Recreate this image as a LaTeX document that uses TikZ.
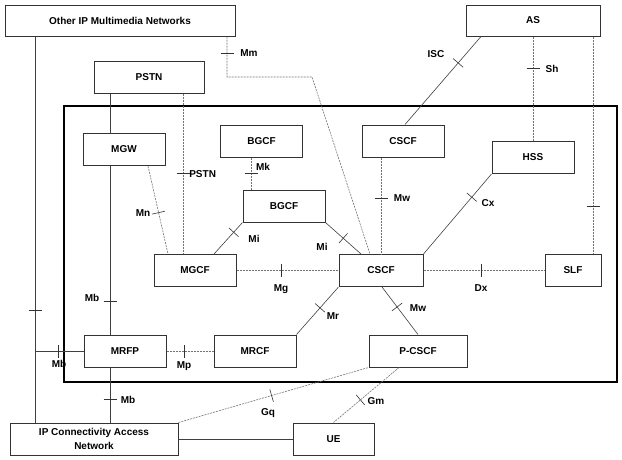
\documentclass[tikz,border=0pt]{standalone}
\usepackage{fontspec}
\setmainfont{Liberation Sans}
\usetikzlibrary{decorations.markings}

\begin{document}
\begin{tikzpicture}[x=1pt,y=-1pt,line width=0.6pt,
    box/.style={draw=black!80,line width=1pt,fill=white,minimum width=82pt,
        minimum height=32pt,inner sep=1pt,align=center,
        font=\fontsize{10}{13.5}\selectfont\bfseries},
    lbl/.style={inner sep=0pt,font=\bfseries},
    link/.style={draw=black!75},
    dots/.style={draw=black!55,dash pattern=on 2pt off 1pt},
    tick/.style={postaction={decorate,decoration={markings,
        mark=at position #1 with {\draw [solid,black!80] (0pt,-6.5pt) -- (0pt,6.5pt);}}}}]
\useasboundingbox (0,0) rectangle (622,459);
\draw [line width=1.6pt] (64,106) rectangle (617,382);

\node (oipn) [box,minimum width=230pt,minimum height=31pt] at (120,20.5) {Other IP Multimedia Networks};
\node (as) [box,minimum width=134pt,minimum height=31pt] at (533,20.5) {AS};
\node (pstn) [box,minimum width=110pt] at (149,77) {PSTN};
\node (mgw) [box] at (124,149.5) {MGW};
\node (bgcfa) [box] at (261.5,141.5) {BGCF};
\node (cscfa) [box] at (403,141) {CSCF};
\node (hss) [box] at (533,157.5) {HSS};
\node (bgcfb) [box] at (284,206) {BGCF};
\node (mgcf) [box] at (195,270.5) {MGCF};
\node (cscf) [box,minimum width=84pt] at (381,270.5) {CSCF};
\node (slf) [box,minimum width=56pt] at (573,270.5) {SLF};
\node (mrfp) [box] at (125,351) {MRFP};
\node (mrcf) [box] at (255,351) {MRCF};
\node (pcscf) [box,minimum width=98pt] at (418,351) {P-CSCF};
\node (ipcan) [box,minimum width=168pt] at (94,439) {IP Connectivity Access\\Network};
\node (ue) [box,minimum width=81pt] at (333.5,439) {UE};

\draw [link,tick=.71] ([xshift=-85pt]oipn.south) coordinate (o1) -- (o1 |- ipcan.north);
\draw [link,tick=.49] (o1 |- mrfp.west) -- (mrfp.west);
\draw [dots,tick=17pt] ([xshift=107pt]oipn.south) |- (312,77) -- ([xshift=-11pt]cscf.north);
\draw [link] ([xshift=-39pt]pstn.south) coordinate (p1) -- (p1 |- mgw.north);
\draw [link,tick=.8] (p1 |- mgw.south) -- (p1 |- mrfp.north);
\draw [link,tick=.57] (p1 |- mrfp.south) -- (p1 |- ipcan.north);
\draw [dots,tick=.5] ([xshift=34pt]pstn.south) coordinate (p2) -- (p2 |- mgcf.north);
\draw [dots,tick=.53] ([xshift=24pt]mgw.south) -- ([xshift=-27pt]mgcf.north);
\draw [dots,tick=.47] ([xshift=-10.5pt]bgcfa.south) coordinate (b1) -- (b1 |- bgcfb.north);
\draw [link,tick=.31] (bgcfb.south west) -- ([xshift=19pt]mgcf.north);
\draw [link,tick=.5] (bgcfb.south east) -- ([xshift=-20pt]cscf.north);
\draw [dots,tick=.44] (mgcf.east) -- (cscf.west);
\draw [dots,tick=.42] ([xshift=-22pt]cscfa.south) coordinate (c1) -- (c1 |- cscf.north);
\draw [link,tick=.7] ([xshift=2pt]cscfa.north) -- ([xshift=-52pt]as.south);
\draw [dots,tick=.3] (as.south) -- (hss.north);
\draw [dots,tick=.78] ([xshift=60pt]as.south) coordinate (a1) -- (a1 |- slf.north);
\draw [link,tick=.29] (hss.south west) -- (cscf.north east);
\draw [dots,tick=.475] (cscf.east) -- (slf.west);
\draw [link,tick=.44] (cscf.south west) -- (mrcf.north east);
\draw [link,tick=.42] ([xshift=1pt]cscf.south) -- (pcscf.north);
\draw [dots,tick=.375] (mrfp.east) -- (mrcf.west);
\draw [dots,tick=.49] (ipcan.north east) -- (pcscf.south west);
\draw [dots,tick=.59] ([xshift=-19pt]pcscf.south) -- (ue.north);
\draw [link] (ipcan.east) -- (ue.west);

\node (lMm) [lbl,anchor=west] at (240,53) {Mm};
\node (lISC) [lbl] at (436,54) {ISC};
\node (lSh) [lbl] at (552,69) {Sh};
\node (lPSTN) [lbl,anchor=west] at (189,174) {PSTN};
\node (lMk) [lbl] at (263,167) {Mk};
\node (lMn) [lbl] at (143,213) {Mn};
\node (lMw1) [lbl] at (402,198) {Mw};
\node (lCx) [lbl] at (488,203) {Cx};
\node (lMi1) [lbl] at (254,239) {Mi};
\node (lMi2) [lbl] at (322,247) {Mi};
\node (lMg) [lbl] at (281,289) {Mg};
\node (lDx) [lbl] at (481,288) {Dx};
\node (lMb1) [lbl] at (92,298) {Mb};
\node (lMr) [lbl] at (333,316) {Mr};
\node (lMw2) [lbl] at (418,308) {Mw};
\node (lMb2) [lbl] at (59,364) {Mb};
\node (lMp) [lbl] at (184,366) {Mp};
\node (lMb3) [lbl] at (128,400) {Mb};
\node (lGq) [lbl] at (268,413) {Gq};
\node (lGm) [lbl] at (376,401) {Gm};
\end{tikzpicture}
\end{document}
